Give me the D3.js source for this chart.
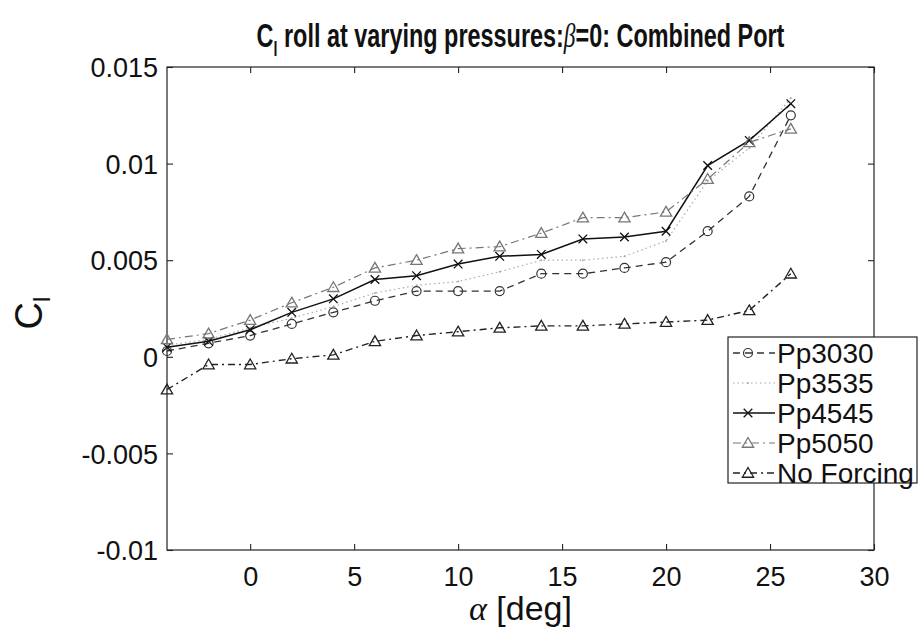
<!DOCTYPE html>
<html>
<head>
<meta charset="utf-8">
<script src="https://cdn.jsdelivr.net/npm/d3@7"></script>
<style>
  body { margin: 0; background: #fff; }
  svg { display: block; }
</style>
</head>
<body>
<div id="chart"></div>
<script>
const width = 918;
const height = 630;

// angle of attack, deg
const alpha = [-4, -2, 0, 2, 4, 6, 8, 10, 12, 14, 16, 18, 20, 22, 24, 26];

const pp3030 = [0.0003, 0.0007, 0.0011, 0.0017, 0.0023, 0.0029, 0.0034, 0.0034, 0.0034, 0.0043, 0.0043, 0.0046, 0.0049, 0.0065, 0.0083, 0.0125];
const pp3535 = [0.0006, 0.0009, 0.0015, 0.0020, 0.0026, 0.0033, 0.0037, 0.0039, 0.0044, 0.0050, 0.0050, 0.0052, 0.0060, 0.0091, 0.0108, 0.0134];
const pp4545 = [0.0005, 0.0008, 0.0014, 0.0023, 0.0030, 0.0040, 0.0042, 0.0048, 0.0052, 0.0053, 0.0061, 0.0062, 0.0065, 0.0099, 0.0112, 0.0131];
const pp5050 = [0.0009, 0.0012, 0.0019, 0.0028, 0.0036, 0.0046, 0.0050, 0.0056, 0.0057, 0.0064, 0.0072, 0.0072, 0.0075, 0.0092, 0.0111, 0.0118];
const noForcing = [-0.0017, -0.0004, -0.0004, -0.0001, 0.0001, 0.0008, 0.0011, 0.0013, 0.0015, 0.0016, 0.0016, 0.0017, 0.0018, 0.0019, 0.0024, 0.0043];

const xTicks = [0, 5, 10, 15, 20, 25, 30];
const yTicks = [-0.01, -0.005, 0, 0.005, 0.01, 0.015];
const yTickLabels = ['-0.01', '-0.005', '0', '0.005', '0.01', '0.015'];

const seriesNames = ['Pp3030', 'Pp3535', 'Pp4545', 'Pp5050', 'No Forcing'];
const seriesValues = [pp3030, pp3535, pp4545, pp5050, noForcing];

const styles = [
  { color: '#333', dash: '7,5', width: 1.3, marker: 'circle' },
  { color: '#aaa', dash: '1.5,3', width: 1.2, marker: 'dot' },
  { color: '#111', dash: null, width: 1.5, marker: 'times' },
  { color: '#777', dash: '8,4,2,4', width: 1.2, marker: 'triangle' },
  { color: '#222', dash: '7,4,2,4', width: 1.4, marker: 'triangle' }
];

const margin = { left: 167, right: 44, top: 67, bottom: 80 };

const svg = d3.select('#chart')
  .append('svg')
  .attr('width', width)
  .attr('height', height);

const xScale = d3.scaleLinear()
  .domain([-4, 30])
  .range([margin.left, width - margin.right]);

const yScale = d3.scaleLinear()
  .domain([-0.01, 0.015])
  .range([height - margin.bottom, margin.top]);

const x0 = xScale.range()[0], x1 = xScale.range()[1];
const y0 = yScale.range()[0], y1 = yScale.range()[1];

const tickFont = '"Liberation Sans", Arial, sans-serif';

// axes box
svg.append('rect')
  .attr('x', x0).attr('y', y1)
  .attr('width', x1 - x0).attr('height', y0 - y1)
  .attr('fill', 'none')
  .attr('stroke', '#222')
  .attr('stroke-width', 1.2);

// bottom / top ticks
const xb = svg.append('g')
  .attr('transform', `translate(0,${y0})`)
  .call(d3.axisBottom(xScale).tickValues(xTicks).tickSize(-6).tickPadding(17).tickFormat(d3.format('d')));
const xt = svg.append('g')
  .attr('transform', `translate(0,${y1})`)
  .call(d3.axisTop(xScale).tickValues(xTicks).tickSize(-6).tickFormat(''));
const yl = svg.append('g')
  .attr('transform', `translate(${x0},0)`)
  .call(d3.axisLeft(yScale).tickValues(yTicks).tickSize(-6).tickPadding(9)
    .tickFormat((d, i) => yTickLabels[i]));
const yr = svg.append('g')
  .attr('transform', `translate(${x1},0)`)
  .call(d3.axisRight(yScale).tickValues(yTicks).tickSize(-6).tickFormat(''));

[xb, xt, yl, yr].forEach(g => {
  g.select('.domain').remove();
  g.selectAll('line').attr('stroke', '#222').attr('stroke-width', 1.1);
  g.selectAll('text')
    .attr('fill', '#111')
    .style('font-size', '27px')
    .style('font-family', tickFont);
});
yl.selectAll('text').attr('dy', '0.36em');
xb.selectAll('text').attr('dy', '0.71em');

// series
const line = d3.line()
  .x(d => xScale(d[0]))
  .y(d => yScale(d[1]));

function drawMarker(g, type, color, cx, cy) {
  if (type === 'circle') {
    g.append('circle').attr('cx', cx).attr('cy', cy).attr('r', 4.5)
      .attr('fill', 'none').attr('stroke', color).attr('stroke-width', 1.2);
  } else if (type === 'triangle') {
    g.append('path').attr('d', d3.symbol().type(d3.symbolTriangle).size(55)())
      .attr('transform', `translate(${cx},${cy + 1})`)
      .attr('fill', 'none').attr('stroke', color).attr('stroke-width', 1.3);
  } else if (type === 'times') {
    g.append('path').attr('d', d3.symbol().type(d3.symbolTimes).size(50)())
      .attr('transform', `translate(${cx},${cy})`)
      .attr('fill', 'none').attr('stroke', color).attr('stroke-width', 1.3);
  } else if (type === 'dot') {
    g.append('circle').attr('cx', cx).attr('cy', cy).attr('r', 1)
      .attr('fill', color);
  }
}

seriesValues.forEach((vals, i) => {
  const st = styles[i];
  const pts = alpha.map((a, j) => [a, vals[j]]);
  const g = svg.append('g');
  g.append('path')
    .datum(pts)
    .attr('d', line)
    .attr('fill', 'none')
    .attr('stroke', st.color)
    .attr('stroke-width', st.width)
    .attr('stroke-dasharray', st.dash);
  pts.forEach(p => drawMarker(g, st.marker, st.color, xScale(p[0]), yScale(p[1])));
});

// legend
const lg = svg.append('g');
const lgX = 728, lgY = 337, lgW = 189, lgH = 146;
lg.append('rect')
  .attr('x', lgX).attr('y', lgY).attr('width', lgW).attr('height', lgH)
  .attr('fill', '#fff').attr('stroke', '#222').attr('stroke-width', 1.2);

seriesNames.forEach((name, i) => {
  const st = styles[i];
  const cy = lgY + 16 + i * 30;
  lg.append('line')
    .attr('x1', lgX + 5).attr('x2', lgX + 47)
    .attr('y1', cy).attr('y2', cy)
    .attr('stroke', st.color)
    .attr('stroke-width', st.width)
    .attr('stroke-dasharray', st.dash);
  drawMarker(lg, st.marker, st.color, lgX + 20, cy);
  lg.append('text')
    .attr('x', lgX + 49).attr('y', cy)
    .attr('dy', '0.36em')
    .attr('fill', '#111')
    .style('font-size', '28px')
    .style('font-family', tickFont)
    .text(name);
});

// title, squeezed horizontally like the narrow original face
const title = svg.append('text')
  .attr('transform', `translate(${(x0 + x1) / 2},47) scale(0.71,1)`)
  .attr('text-anchor', 'middle')
  .attr('fill', '#111')
  .style('font-size', '33px')
  .style('font-weight', 'bold')
  .style('font-family', tickFont);
title.append('tspan').text('C');
title.append('tspan').attr('dy', 9).style('font-size', '20px').text('l');
title.append('tspan').attr('dy', -9).text(' roll at varying pressures:');
title.append('tspan').style('font-family', '"Liberation Serif", serif').style('font-style', 'italic').style('font-weight', 'normal').text('β');
title.append('tspan').text('=0: Combined Port');

// y label
const ylab = svg.append('text')
  .attr('transform', 'translate(42,313) rotate(-90)')
  .attr('text-anchor', 'middle')
  .attr('fill', '#111')
  .style('font-size', '38px')
  .style('font-family', tickFont);
ylab.append('tspan').text('C');
ylab.append('tspan').attr('dy', 8).style('font-size', '24px').text('l');

// x label
const xlab = svg.append('text')
  .attr('x', (x0 + x1) / 2)
  .attr('y', 620)
  .attr('text-anchor', 'middle')
  .attr('fill', '#111')
  .style('font-size', '34px')
  .style('font-family', tickFont);
xlab.append('tspan').style('font-family', '"Liberation Serif", serif').style('font-style', 'italic').text('α');
xlab.append('tspan').text(' [deg]');
</script>
</body>
</html>
